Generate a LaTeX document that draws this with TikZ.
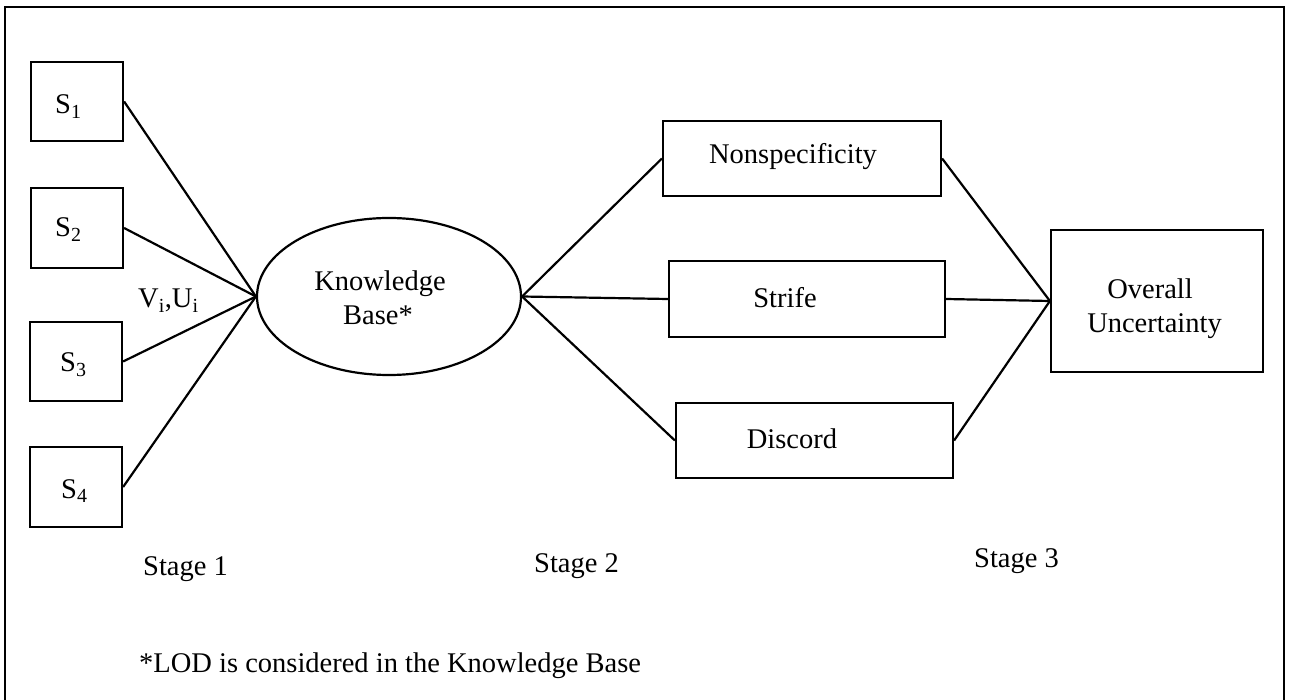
\documentclass[tikz,border=0pt]{standalone}
\usepackage{fontspec}
\setmainfont{Liberation Serif}
\usetikzlibrary{shapes.geometric}
\begin{document}
\begin{tikzpicture}[x=1pt,y=-1pt,
  box/.style={draw,line width=2.2pt,rectangle,inner sep=0pt},
  oval/.style={draw,line width=2.2pt,ellipse,inner sep=0pt},
  conn/.style={line width=2.2pt},
  frame/.style={line width=2.4pt},
  txt/.style={anchor=base west,inner sep=0pt,font=\fontsize{28.5}{34}\selectfont}]
\useasboundingbox (0,0) rectangle (1290,700);
% frame
\coordinate (fbl) at (5,700);
\coordinate (ftl) at (5,7);
\coordinate (ftr) at (1284,7);
\coordinate (fbr) at (1284,700);
\draw[frame] (fbl) -- (ftl) -- (ftr) -- (fbr);
% stage 1 boxes
\node[box,minimum width=92pt,minimum height=79pt] (s1) at (77,101.5) {};
\node[box,minimum width=92pt,minimum height=80pt] (s2) at (77,228) {};
\node[box,minimum width=92pt,minimum height=79pt] (s3) at (76,361.5) {};
\node[box,minimum width=92pt,minimum height=80pt] (s4) at (76,487) {};
\node[txt] (t1) at (55,114) {S\textsubscript{1}};
\node[txt] (t2) at (55,237) {S\textsubscript{2}};
\node[txt] (t3) at (60,372) {S\textsubscript{3}};
\node[txt] (t4) at (61,498) {S\textsubscript{4}};
\node[txt] (vu) at (138,308) {V\textsubscript{i},U\textsubscript{i}};
% knowledge base
\node[oval,minimum width=264pt,minimum height=157pt] (kb) at (389,296.5) {};
\node[txt,anchor=base] (kb1) at (380,291) {Knowledge};
\node[txt,anchor=base] (kb2) at (378,325) {Base*};
% stage 2 boxes
\node[box,minimum width=278pt,minimum height=75pt] (ns) at (802,158.5) {};
\node[box,minimum width=276pt,minimum height=76pt] (st) at (807,299) {};
\node[box,minimum width=277pt,minimum height=75pt] (dc) at (814.5,440.5) {};
\node[txt,anchor=base] (tns) at (793,164) {Nonspecificity};
\node[txt,anchor=base] (tst) at (785,308) {Strife};
\node[txt,anchor=base] (tdc) at (792,448) {Discord};
% stage 3 box
\node[box,minimum width=212pt,minimum height=142pt] (ou) at (1157,301) {};
\node[txt,anchor=base] (tou1) at (1150,299) {Overall};
\node[txt,anchor=base] (tou2) at (1154.5,333) {Uncertainty};
% connectors
\foreach \s in {s1,s2,s3,s4} \draw[conn] (\s.east) -- (kb.west);
\foreach \b in {ns,st,dc} {
  \draw[conn] (kb.east) -- (\b.west);
  \draw[conn] (\b.east) -- (ou.west);
}
% stage labels
\node[txt] (stg1) at (143,575) {Stage 1};
\node[txt] (stg2) at (534,572) {Stage 2};
\node[txt] (stg3) at (974,567) {Stage 3};
\node[txt] (foot) at (139,672) {*LOD is considered in the Knowledge Base};
\end{tikzpicture}
\end{document}
